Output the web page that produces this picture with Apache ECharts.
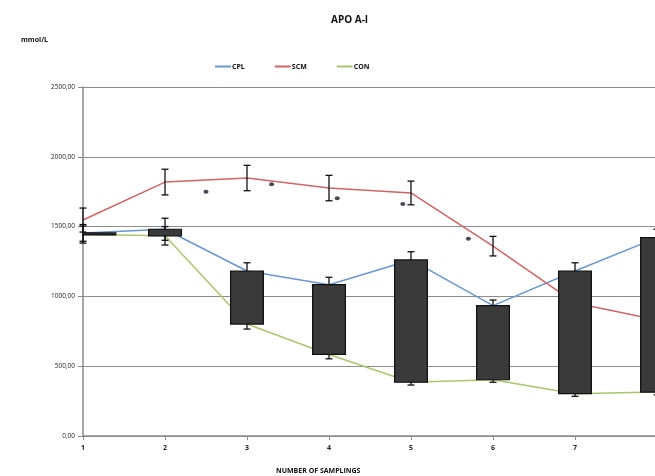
<!DOCTYPE html>
<html>
<head>
<meta charset="utf-8">
<script src="https://cdn.jsdelivr.net/npm/echarts@6/dist/echarts.min.js"></script>
<style>html,body{margin:0;padding:0;background:#fff}#c{width:655px;height:476px}</style>
</head>
<body>
<div id="c"></div>
<script>
const samplings = [1, 2, 3, 4, 5, 6, 7, 8];
const cpl = [1455, 1481, 1182, 1084, 1261, 934, 1182, 1421];
const scm = [1547, 1819, 1848, 1776, 1741, 1360, 953, 831];
const con = [1443, 1434, 802, 584, 385, 403, 303, 315];
const cplErr = [60, 79, 59, 53, 59, 40, 59, 60];
const scmErr = [86, 92, 91, 91, 85, 70, 70, 70];
const conErr = [61, 66, 36, 31, 20, 18, 19, 20];
const markX = [2.5, 3.3, 4.1, 4.9, 5.7];
const markY = [1750, 1803, 1703, 1662, 1413];

const FONT = 'Open Sans';
const C_BLUE = '#6a96d2', C_RED = '#d06464', C_GREEN = '#a9c66e';

function errData(vals, errs) { return samplings.map((x, i) => [x, vals[i], errs[i]]); }
function errRender(params, api) {
  const x = api.value(0), y = api.value(1), e = api.value(2);
  const t = api.coord([x, y + e]), b = api.coord([x, y - e]);
  const cw = 3.5;
  const st = { stroke: '#111', lineWidth: 1.3 };
  return { type: 'group', children: [
    { type: 'line', shape: { x1: t[0], y1: t[1], x2: b[0], y2: b[1] }, style: st },
    { type: 'line', shape: { x1: t[0] - cw, y1: t[1], x2: t[0] + cw, y2: t[1] }, style: st },
    { type: 'line', shape: { x1: b[0] - cw, y1: b[1], x2: b[0] + cw, y2: b[1] }, style: st }
  ]};
}
function errSeries(vals, errs) {
  return { type: 'custom', data: errData(vals, errs), renderItem: errRender, z: 3, silent: true,
    encode: { x: 0, y: [1] } };
}

const chart = echarts.init(document.getElementById('c'));
chart.setOption({
  animation: false,
  backgroundColor: '#fff',
  title: [
    { text: 'APO A-I', top: 10, left: 326, textStyle: { fontFamily: FONT, fontSize: 10, fontWeight: 'bold', color: '#111' } },
    { text: 'mmol/L', left: 16, top: 31, textStyle: { fontFamily: FONT, fontSize: 7, fontWeight: 'bold', color: '#111' } },
    { text: 'NUMBER OF SAMPLINGS', left: 271, top: 462, textStyle: { fontFamily: FONT, fontSize: 7, fontWeight: 'bold', color: '#111' } }
  ],
  legend: {
    left: 210, top: 58, itemGap: 30, itemWidth: 16, itemHeight: 2, icon: 'rect',
    textStyle: { fontFamily: FONT, fontSize: 7, fontWeight: 'bold', color: '#111', padding: [0, 0, 0, -4] },
    data: ['CPL', 'SCM', 'CON']
  },
  grid: { left: 83, top: 87, bottom: 40, width: 574, outerBoundsMode: 'none', containLabel: false },
  xAxis: {
    type: 'value', min: 1, max: 8, interval: 1,
    axisLine: { show: true, onZero: false, lineStyle: { color: '#8a8a8a', width: 1.5 } },
    axisTick: { show: true, length: 4, lineStyle: { color: '#8a8a8a' } },
    axisLabel: { fontFamily: FONT, fontSize: 7, fontWeight: 'bold', margin: 8,
      color: function (v) { return v === 8 ? '#f0a040' : '#222'; } },
    splitLine: { show: false }
  },
  yAxis: {
    type: 'value', min: 0, max: 2500, interval: 500,
    axisLine: { show: true, lineStyle: { color: '#8a8a8a', width: 1.5 } },
    axisTick: { show: true, length: 5, lineStyle: { color: '#8a8a8a' } },
    axisLabel: { fontFamily: FONT, fontSize: 6.5, color: '#222', margin: 8,
      formatter: function (v) { return v.toFixed(2).replace('.', ','); } },
    splitLine: { show: true, lineStyle: { color: '#8c8c8c', width: 1.2 } }
  },
  series: [
    { name: 'CPL', type: 'line', data: samplings.map((x, i) => [x, cpl[i]]), symbol: 'none', z: 2,
      lineStyle: { color: C_BLUE, width: 1.5 }, itemStyle: { color: C_BLUE } },
    { name: 'SCM', type: 'line', data: samplings.map((x, i) => [x, scm[i]]), symbol: 'none', z: 2,
      lineStyle: { color: C_RED, width: 1.5 }, itemStyle: { color: C_RED } },
    { name: 'CON', type: 'line', data: samplings.map((x, i) => [x, con[i]]), symbol: 'none', z: 2,
      lineStyle: { color: C_GREEN, width: 1.5 }, itemStyle: { color: C_GREEN } },
    errSeries(cpl, cplErr),
    errSeries(scm, scmErr),
    errSeries(con, conErr),
    {
      type: 'custom', z: 4, silent: true,
      data: samplings.map((x, i) => [x, cpl[i], con[i]]),
      encode: { x: 0, y: [1, 2] },
      renderItem: function (params, api) {
        const x = api.value(0), a = api.value(1), b = api.value(2);
        const pa = api.coord([x, Math.max(a, b)]), pb = api.coord([x, Math.min(a, b)]);
        const w = api.size([1, 0])[0] * 0.4;
        const x0 = params.dataIndex === 0 ? pa[0] : pa[0] - w / 2;
        const h = Math.max(pb[1] - pa[1], 2);
        return { type: 'rect', shape: { x: x0, y: pa[1], width: w, height: h },
          style: { fill: '#3a3a3a', stroke: '#111', lineWidth: 1.2 } };
      }
    },
    { type: 'scatter', z: 5, silent: true, data: markX.map((x, i) => [x, markY[i]]),
      symbol: 'circle', symbolSize: [5, 4], itemStyle: { color: '#1c1c2a' } }
  ]
});
</script>
</body>
</html>
